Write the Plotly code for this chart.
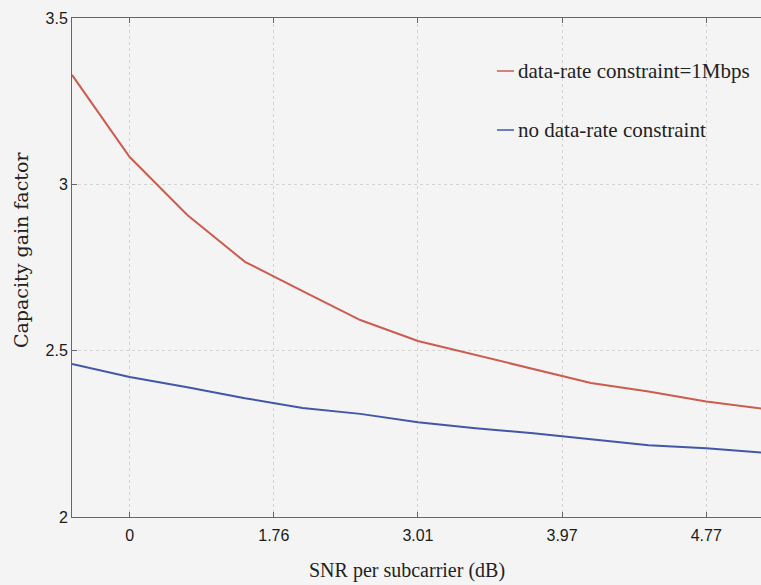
import plotly.graph_objects as go

# Linear SNR per subcarrier (data samples)
snr_linear = [0.8, 1.0, 1.2, 1.4, 1.6, 1.8, 2.0, 2.2, 2.4, 2.6, 2.8, 3.0, 3.2]
gain_constrained = [3.329, 3.082, 2.908, 2.767, 2.679, 2.592, 2.529, 2.487, 2.445, 2.403, 2.377, 2.347, 2.325]
gain_unconstrained = [2.460, 2.421, 2.390, 2.357, 2.328, 2.310, 2.285, 2.267, 2.252, 2.234, 2.216, 2.207, 2.193]

tick_vals = [1.0, 1.5, 2.0, 2.5, 3.0]
tick_text = ["0", "1.76", "3.01", "3.97", "4.77"]
y_ticks = [2, 2.5, 3, 3.5]
y_text = ["2", "2.5", "3", "3.5"]

name_constrained = "data-rate constraint=1Mbps"
name_unconstrained = "no data-rate constraint"
red = "#cc5c50"
blue = "#4257a8"
bg = "#f4f4f4"

fig = go.Figure()
fig.add_trace(go.Scatter(x=snr_linear, y=gain_constrained, mode="lines",
                         line=dict(color=red, width=2), name=name_constrained, showlegend=False))
fig.add_trace(go.Scatter(x=snr_linear, y=gain_unconstrained, mode="lines",
                         line=dict(color=blue, width=2), name=name_unconstrained, showlegend=False))

tick_font = dict(family="Liberation Sans, Arial, sans-serif", size=16, color="#1a1a1a")
serif = "Liberation Serif, DejaVu Serif, serif"

fig.update_layout(
    width=761, height=585,
    margin=dict(l=72, r=0, t=18, b=68),
    paper_bgcolor=bg, plot_bgcolor=bg,
    xaxis=dict(range=[0.8, 3.19], tickvals=tick_vals, ticktext=tick_text,
               ticks="inside", ticklen=5, tickcolor="#666", showline=True, linecolor="#666",
               linewidth=1, mirror="ticks", showgrid=True, gridcolor="#d4d4d4", griddash="dot",
               gridwidth=1, zeroline=False, tickfont=tick_font, ticklabelstandoff=4),
    yaxis=dict(range=[2, 3.5], tickvals=y_ticks, ticktext=y_text,
               ticks="inside", ticklen=5, tickcolor="#666", showline=True, linecolor="#666",
               linewidth=1, mirror=False, showgrid=True, gridcolor="#d4d4d4", griddash="dot",
               gridwidth=1, zeroline=False, tickfont=tick_font, ticklabelstandoff=0),
    showlegend=False,
)

# axis titles
fig.add_annotation(text="SNR per subcarrier (dB)", xref="paper", yref="paper",
                   x=(407 - 72) / 689, y=-(570 - 517) / 499, xanchor="center", yanchor="middle",
                   showarrow=False, font=dict(family=serif, size=20, color="#222"))
fig.add_annotation(text="Capacity gain factor", xref="paper", yref="paper",
                   x=-(72 - 21) / 689, y=(517 - 250) / 499, xanchor="center", yanchor="middle",
                   textangle=-90, showarrow=False, font=dict(family="DejaVu Serif, serif", size=19, color="#222"))

# legend (manual)
for name, color, ypx in [(name_constrained, red, 71), (name_unconstrained, blue, 130)]:
    yp = (517 - ypx) / 499
    fig.add_shape(type="line", xref="paper", yref="paper",
                  x0=(497 - 72) / 689, x1=(514 - 72) / 689, y0=yp, y1=yp,
                  line=dict(color=color, width=1.5))
    fig.add_annotation(text=name, xref="paper", yref="paper", x=(516 - 72) / 689, y=yp,
                       xanchor="left", yanchor="middle", showarrow=False,
                       font=dict(family=serif, size=21, color="#222"))

fig.write_html("out.html")
